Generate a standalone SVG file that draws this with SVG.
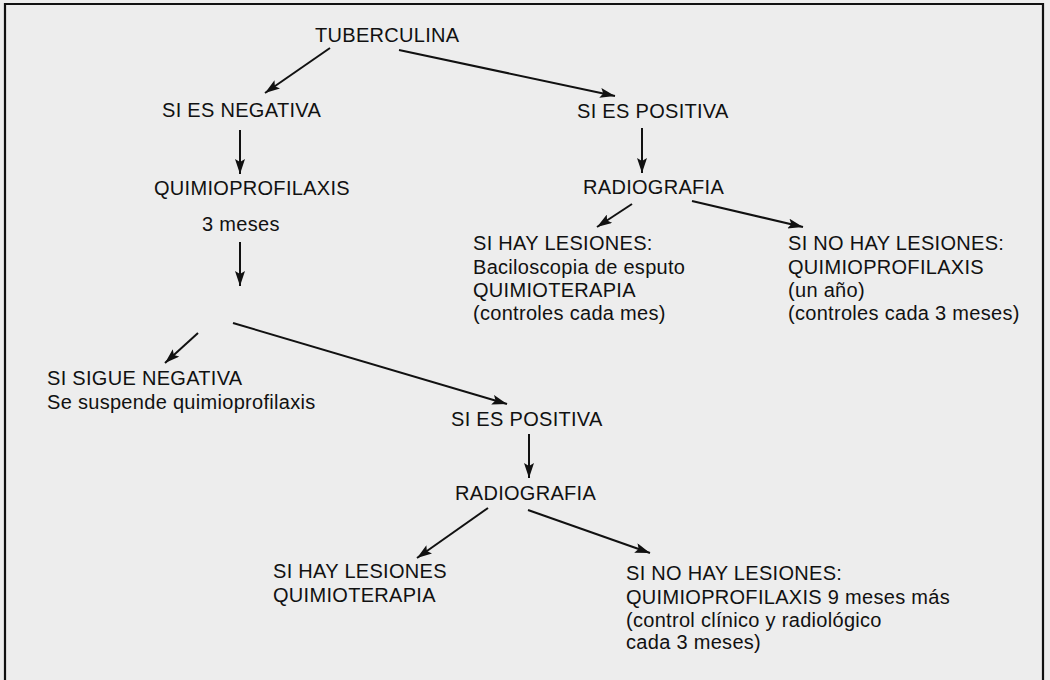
<svg xmlns="http://www.w3.org/2000/svg" width="1050" height="680" viewBox="0 0 1050 680">
<defs>
<marker id="ah" markerUnits="userSpaceOnUse" markerWidth="16" markerHeight="10" refX="15" refY="5" orient="auto">
<path d="M0,0 L15,5 L0,10 L3,5 Z" fill="#111"/>
</marker>
<style>
text{font-family:"Liberation Sans",Arial,sans-serif;font-size:20px;fill:#111;letter-spacing:0.3px}
.c line{stroke:#111;stroke-width:2;marker-end:url(#ah)}
</style>
</defs>
<rect x="0" y="0" width="1050" height="680" fill="#ededed"/>
<path d="M5,690 L5,4 L1043,4 L1043,690" fill="none" stroke="#111" stroke-width="2.2"/>
<g id="tuberculina"><text x="315" y="42">TUBERCULINA</text></g>
<g id="negativa"><text x="162" y="117">SI ES NEGATIVA</text></g>
<g id="quimio1"><text x="154" y="195">QUIMIOPROFILAXIS</text><text x="202" y="231">3 meses</text></g>
<g id="positiva1"><text x="577" y="118">SI ES POSITIVA</text></g>
<g id="radio1"><text x="583" y="194">RADIOGRAFIA</text></g>
<g id="hay1"><text x="473" y="250">SI HAY LESIONES:</text><text x="473" y="274">Baciloscopia de esputo</text><text x="473" y="297">QUIMIOTERAPIA</text><text x="473" y="320">(controles cada mes)</text></g>
<g id="nohay1"><text x="788" y="250">SI NO HAY LESIONES:</text><text x="788" y="274">QUIMIOPROFILAXIS</text><text x="788" y="297">(un año)</text><text x="788" y="320">(controles cada 3 meses)</text></g>
<g id="sigue"><text x="47" y="385">SI SIGUE NEGATIVA</text><text x="47" y="409">Se suspende quimioprofilaxis</text></g>
<g id="positiva2"><text x="451" y="426">SI ES POSITIVA</text></g>
<g id="radio2"><text x="455" y="500">RADIOGRAFIA</text></g>
<g id="hay2"><text x="273" y="578">SI HAY LESIONES</text><text x="273" y="602">QUIMIOTERAPIA</text></g>
<g id="nohay2"><text x="626" y="580">SI NO HAY LESIONES:</text><text x="626" y="604">QUIMIOPROFILAXIS 9 meses más</text><text x="626" y="627">(control clínico y radiológico</text><text x="626" y="649">cada 3 meses)</text></g>
<g class="c" id="connectors">
<line x1="330" y1="48" x2="265" y2="93"/>
<line x1="399" y1="50" x2="615" y2="96"/>
<line x1="240" y1="130" x2="240" y2="174"/>
<line x1="240" y1="242" x2="240" y2="286"/>
<line x1="198" y1="333" x2="165" y2="363"/>
<line x1="233" y1="323" x2="507" y2="404"/>
<line x1="642" y1="128" x2="642" y2="173"/>
<line x1="632" y1="204" x2="597" y2="227"/>
<line x1="692" y1="201" x2="803" y2="227"/>
<line x1="529" y1="434" x2="529" y2="478"/>
<line x1="488" y1="508" x2="417" y2="558"/>
<line x1="528" y1="510" x2="650" y2="553"/>
</g>
</svg>
